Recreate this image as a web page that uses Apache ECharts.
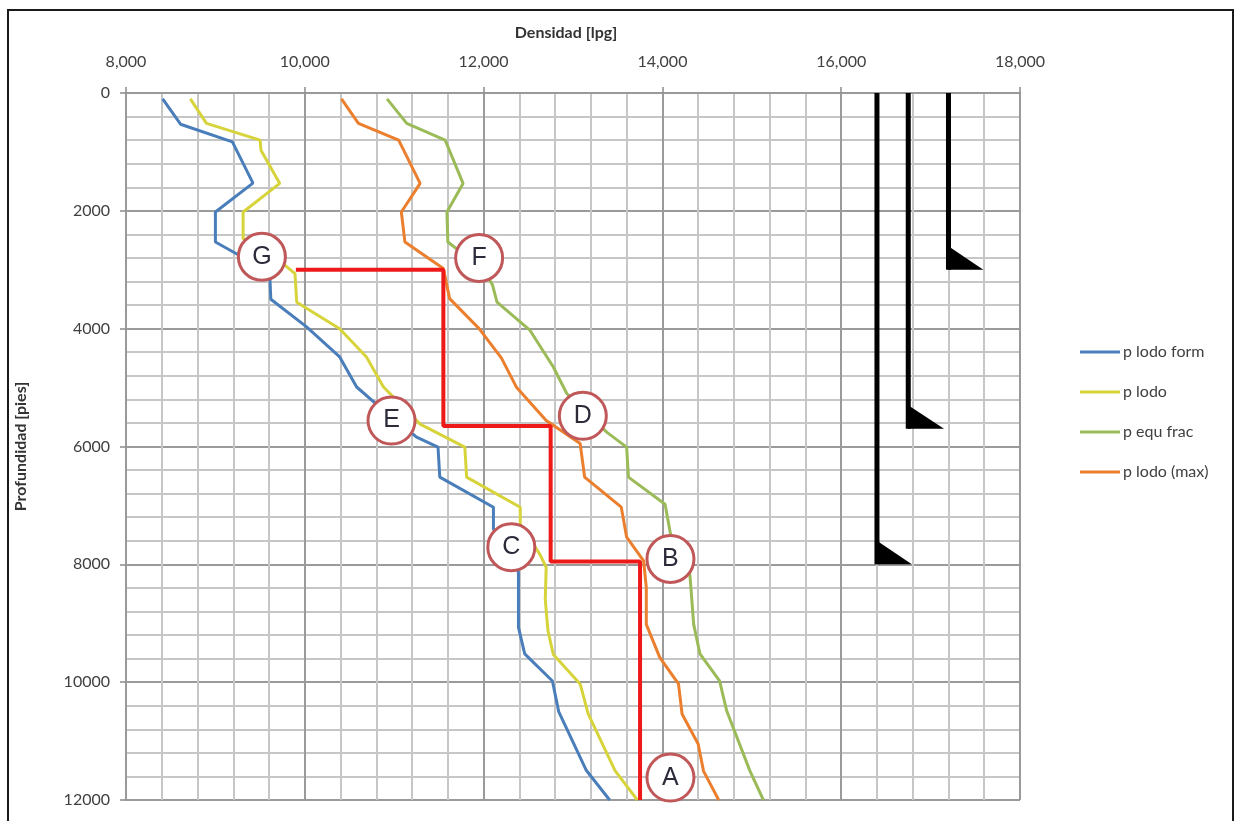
<!DOCTYPE html>
<html>
<head>
<meta charset="utf-8">
<script src="https://cdn.jsdelivr.net/npm/echarts@6/dist/echarts.min.js"></script>
<style>
html,body{margin:0;padding:0;background:#fff;}
#chart{width:1236px;height:821px;}
#frame{position:absolute;left:7px;top:9px;width:1223px;height:840px;border:2px solid #1a1a1a;pointer-events:none;}
</style>
</head>
<body>
<div id="chart"></div>
<div id="frame"></div>
<script>
// ---- Data ----
const xTickValues = [8000, 10000, 12000, 14000, 16000, 18000];
const yTickValues = [0, 2000, 4000, 6000, 8000, 10000, 12000];

const seriesNames = ['p lodo form', 'p lodo', 'p equ frac', 'p lodo (max)'];

const formDepth  = [100, 530, 830, 1530, 2020, 2530, 2750, 3150, 3500, 3970, 4480, 4990, 5280, 5840, 6010, 6520, 7030, 7400, 8000, 8160, 9070, 9520, 9980, 10500, 11500, 12000];
const formValues = [8410, 8610, 9190, 9420, 9000, 9000, 9260, 9610, 9620, 10020, 10390, 10580, 10800, 11250, 11490, 11510, 12110, 12110, 12380, 12390, 12390, 12460, 12770, 12840, 13150, 13410];

const lodoDepth  = [100, 515, 800, 970, 1535, 2020, 2470, 2950, 3065, 3550, 4000, 4480, 4990, 5620, 6010, 6520, 7030, 7320, 7830, 8050, 8600, 9130, 9530, 10030, 10540, 11500, 12000];
const lodoValues = [8720, 8900, 9500, 9510, 9720, 9310, 9310, 9800, 9890, 9910, 10390, 10690, 10880, 11290, 11790, 11810, 12410, 12410, 12630, 12700, 12690, 12720, 12780, 13080, 13170, 13470, 13720];

const fracDepth  = [100, 515, 800, 1535, 2020, 2530, 3000, 3260, 3550, 4030, 4650, 5100, 5760, 6010, 6520, 6980, 7480, 8000, 8220, 9020, 9520, 9980, 10490, 11510, 12000];
const fracValues = [10920, 11140, 11570, 11770, 11590, 11600, 12000, 12100, 12150, 12520, 12780, 12930, 13380, 13600, 13620, 14030, 14090, 14290, 14310, 14350, 14420, 14640, 14720, 14980, 15130];

const maxDepth  = [100, 515, 800, 1535, 2020, 2530, 2980, 3490, 4000, 4500, 5000, 5560, 5950, 6520, 7030, 7540, 7940, 8390, 9020, 9580, 10030, 10540, 11050, 11510, 12000];
const maxValues = [10410, 10600, 11050, 11290, 11080, 11120, 11550, 11620, 11950, 12200, 12370, 12700, 13080, 13130, 13540, 13600, 13790, 13820, 13820, 13970, 14180, 14220, 14400, 14460, 14630];

// red design step line
const stepDensity = [9900, 11550, 11550, 12750, 12750, 13750, 13750];
const stepDepth   = [3000, 3000, 5650, 5650, 7950, 7950, 12000];

// lettered circles
const markerLabels  = ['G', 'F', 'E', 'D', 'C', 'B', 'A'];
const markerDensity = [9520, 11950, 10970, 13110, 12310, 14090, 14090];
const markerDepth   = [2780, 2800, 5560, 5480, 7710, 7910, 11620];

// casing strings (black) with shoes
const casingDensity  = [16400, 16750, 17200];
const casingTop      = [0, 0, 0];
const casingShoeTop  = [7600, 5300, 2600];
const casingShoeBase = [8000, 5700, 3000];
const casingShoeTip  = [16790, 17150, 17590];

// ---- Chart ----
const FONT = 'Lato, "Open Sans", sans-serif';
const colors = ['#4a7ebb', '#d6d43a', '#9bbb59', '#eb7f2e'];
const pairs = (xs, ys) => xs.map((v, i) => [v, ys[i]]);

const lineSeries = [
  [formValues, formDepth],
  [lodoValues, lodoDepth],
  [fracValues, fracDepth],
  [maxValues, maxDepth]
].map((p, i) => ({
  name: seriesNames[i],
  type: 'line',
  data: pairs(p[0], p[1]),
  symbol: 'none',
  lineStyle: { color: colors[i], width: 3 },
  itemStyle: { color: colors[i] },
  z: 3
}));

const casingLines = casingDensity.map((x, i) => ({
  type: 'line',
  data: [[x, casingTop[i]], [x, casingShoeBase[i]]],
  symbol: 'none',
  silent: true,
  lineStyle: { color: '#000', width: 5 },
  z: 4
}));

const option = {
  animation: false,
  backgroundColor: '#fff',
  grid: { left: 126, top: 93, right: 216, bottom: 21, containLabel: false },
  legend: {
    data: seriesNames,
    orient: 'vertical',
    left: 1075,
    top: 338,
    icon: 'rect',
    itemWidth: 40,
    itemHeight: 3,
    itemGap: 22,
    textStyle: { fontFamily: FONT, fontSize: 16, color: '#404040', lineHeight: 18, padding: [0, 0, 0, -2] }
  },
  xAxis: {
    type: 'value',
    position: 'top',
    min: 8000, max: 18000, interval: 2000,
    name: 'Densidad [lpg]',
    nameLocation: 'middle',
    nameGap: 52,
    nameTextStyle: { fontFamily: FONT, fontSize: 16, fontWeight: 'bold', color: '#333', padding: [0, 0, 0, -14] },
    axisLine: { show: true, lineStyle: { color: '#9a9a9a', width: 2 } },
    axisTick: { show: true, length: 6, lineStyle: { color: '#8a8a8a', width: 1.5 } },
    axisLabel: {
      margin: 23,
      fontFamily: FONT, fontSize: 16, color: '#404040',
      customValues: xTickValues,
      formatter: v => v.toLocaleString('en-US')
    },
    splitLine: { show: true, lineStyle: { color: '#9a9a9a', width: 2 } },
    minorTick: { show: false, splitNumber: 5 },
    minorSplitLine: { show: true, lineStyle: { color: '#c6c6c6', width: 2 } }
  },
  yAxis: {
    type: 'value',
    inverse: true,
    min: 0, max: 12000, interval: 2000,
    name: 'Profundidad [pies]',
    nameLocation: 'middle',
    nameGap: 97,
    nameRotate: 90,
    nameTextStyle: { fontFamily: FONT, fontSize: 16, fontWeight: 'bold', color: '#333' },
    axisLine: { show: true, lineStyle: { color: '#9a9a9a', width: 2 } },
    axisTick: { show: true, length: 6, lineStyle: { color: '#8a8a8a', width: 1.5 } },
    axisLabel: {
      margin: 16,
      fontFamily: FONT, fontSize: 16, color: '#404040',
      customValues: yTickValues,
      formatter: v => String(v)
    },
    splitLine: { show: true, lineStyle: { color: '#9a9a9a', width: 2 } },
    minorTick: { show: false, splitNumber: 5 },
    minorSplitLine: { show: true, lineStyle: { color: '#c6c6c6', width: 2 } }
  },
  series: [
    ...lineSeries,
    {
      name: 'diseno',
      type: 'line',
      data: pairs(stepDensity, stepDepth),
      symbol: 'none',
      silent: true,
      lineStyle: { color: '#ee1a1a', width: 4 },
      z: 5
    },
    ...casingLines,
    {
      name: 'zapatas',
      type: 'custom',
      silent: true,
      data: casingDensity.map((x, i) => [x, casingShoeTop[i], casingShoeBase[i], casingShoeTip[i]]),
      encode: { x: [0, 3], y: [1, 2] },
      renderItem: (params, api) => {
        const a = api.coord([api.value(0), api.value(1)]);
        const b = api.coord([api.value(0), api.value(2)]);
        const c = api.coord([api.value(3), api.value(2)]);
        return { type: 'polygon', shape: { points: [a, b, c] }, style: { fill: '#000' } };
      },
      z: 4
    },
    {
      name: 'puntos',
      type: 'scatter',
      silent: true,
      data: markerDensity.map((x, i) => ({ value: [x, markerDepth[i]], name: markerLabels[i] })),
      symbol: 'circle',
      symbolSize: 47,
      itemStyle: { color: '#ffffff', borderColor: '#c0585a', borderWidth: 3, opacity: 1 },
      label: {
        show: true,
        position: 'inside',
        formatter: p => p.name,
        fontFamily: '"Liberation Sans", Arial, sans-serif',
        fontSize: 25,
        color: '#2b2b3a'
      },
      z: 10
    }
  ]
};

const chart = echarts.init(document.getElementById('chart'), null, { renderer: 'canvas' });
chart.setOption(option);
</script>
</body>
</html>
